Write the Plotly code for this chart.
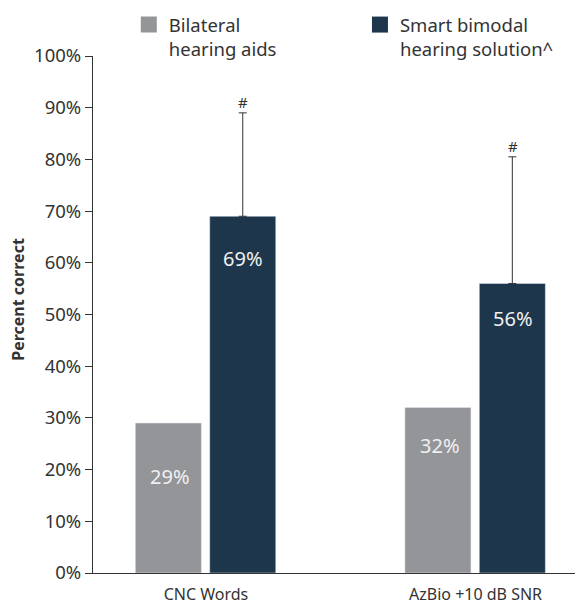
import plotly.graph_objects as go

categories = ["CNC Words", "AzBio +10 dB SNR"]
series_names = ["Bilateral<br>hearing aids", "Smart bimodal<br>hearing solution^"]
bilateral = [29, 32]
bimodal = [69, 56]
bimodal_err = [20, 24.5]
bimodal_sig = ["#", "#"]
y_ticks = [0, 10, 20, 30, 40, 50, 60, 70, 80, 90, 100]
y_tick_labels = [f"{v}%" for v in y_ticks]

GRAY = "#939598"
NAVY = "#1d364b"
TEXT = "#333333"
FONT = "Noto Sans"

fig = go.Figure()
fig.add_bar(x=categories, y=bilateral, marker_color=GRAY, width=0.245, offset=-0.262,
            showlegend=False, hoverinfo="skip")
fig.add_bar(x=categories, y=bimodal, marker_color=NAVY, width=0.245, offset=0.014,
            showlegend=False, hoverinfo="skip",
            error_y=dict(type="data", symmetric=False, array=bimodal_err,
                         color=TEXT, thickness=1, width=4))

# legend proxies, one legend per series
for name, col, lg in zip(series_names, [GRAY, NAVY], ["legend", "legend2"]):
    fig.add_scatter(x=[categories[0]], y=[None], mode="markers", name=name, legend=lg,
                    marker=dict(symbol="square", size=16, color=col), hoverinfo="skip")

label_shift_gray = [-53, -38]
label_shift_navy = [-42, -35]
for i, c in enumerate(categories):
    fig.add_annotation(x=c, y=bilateral[i], text=f"{bilateral[i]}%", showarrow=False,
                       xshift=-36, yshift=label_shift_gray[i],
                       font=dict(color="#f0f0f0", size=20, family=FONT))
    fig.add_annotation(x=c, y=bimodal[i], text=f"{bimodal[i]}%", showarrow=False,
                       xshift=37, yshift=label_shift_navy[i],
                       font=dict(color="#f0f0f0", size=20, family=FONT))
    fig.add_annotation(x=c, y=bimodal[i] + bimodal_err[i], text=bimodal_sig[i],
                       showarrow=False, xshift=37, yshift=11,
                       font=dict(color=TEXT, size=15, family=FONT))

fig.add_annotation(xref="paper", yref="paper", x=-0.156, y=0.53, xanchor="center",
                   yanchor="middle", text="<b>Percent correct</b>",
                   textangle=-90, showarrow=False,
                   font=dict(size=16, color=TEXT, family=FONT))

legend_common = dict(orientation="v", xanchor="left", yanchor="top", yref="container",
                     xref="container", valign="top", itemwidth=30, bgcolor="rgba(0,0,0,0)",
                     font=dict(size=18.5, color=TEXT, family=FONT))

fig.update_layout(
    width=575, height=605,
    margin=dict(l=93, r=0, t=56, b=32, autoexpand=False),
    plot_bgcolor="white", paper_bgcolor="white",
    font=dict(family=FONT, color=TEXT),
    legend=dict(legend_common, x=0.224, y=0.99),
    legend2=dict(legend_common, x=0.626, y=0.99),
    xaxis=dict(type="category", range=[-0.419, 1.369], showline=True, linecolor=TEXT,
               linewidth=1.2, ticks="", ticklabelstandoff=7, automargin=False,
               tickfont=dict(size=16, color=TEXT, family=FONT), fixedrange=True),
    yaxis=dict(range=[0, 100], tickvals=y_ticks, ticktext=y_tick_labels, automargin=False,
               showline=True, linecolor=TEXT, linewidth=1.2, showgrid=False,
               zeroline=False, ticks="outside", ticklen=7, tickcolor=TEXT,
               tickfont=dict(size=18.5, color=TEXT, family=FONT)),
)

fig.write_html("out.html", config={"displayModeBar": False},
               post_script="document.body.style.margin='0px';")
